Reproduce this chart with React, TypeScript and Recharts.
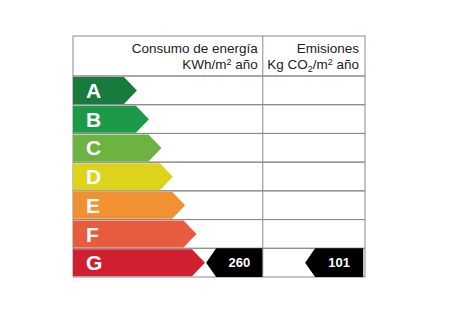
import { Bar, BarChart, Cell, ReferenceArea, ReferenceLine, XAxis, YAxis } from 'recharts';

// Energy rating classes, longest arrow for the worst class
const ratings = ['A', 'B', 'C', 'D', 'E', 'F', 'G'];
const classReach = [21.9, 26.0, 30.3, 34.2, 38.4, 42.3, 45.2];
const classColors = ['#187a3d', '#1c9a4a', '#6cb341', '#ddd21c', '#f19131', '#e85b3f', '#d01f2e'];

// Both indicators point at the building's rating
const consumptionValue = 260;
const consumptionRating = 'G';
const emissionsValue = 101;
const emissionsRating = 'G';

// Scale runs 0-100 across the table; the energy column ends at 65
const energyColumnEnd = 65;
const consumptionTip = 45.6;
const emissionsTip = 79.5;

const FONT = '"Liberation Sans", Arial, sans-serif';
const WIDTH = 476;
const HEIGHT = 317;
const MARGIN = { top: 76, left: 73, right: 111, bottom: 40 };
const HEADER_TOP = 36;
const BORDER = '#8a8a8a';

const chartData = ratings.map((rating, i) => ({ rating, reach: classReach[i] }));

function ClassArrow(props: any) {
  const { x, y, width, height, fill, payload } = props;
  const head = 13;
  const right = x + width;
  const points = [
    [x, y],
    [right - head, y],
    [right, y + height / 2],
    [right - head, y + height],
    [x, y + height],
  ]
    .map((p) => p.join(','))
    .join(' ');
  return (
    <g>
      <polygon points={points} fill={fill} />
      <text
        x={x + 13}
        y={y + height / 2 + 7.5}
        fill="#fff"
        fontFamily={FONT}
        fontWeight="bold"
        fontSize={21}
      >
        {payload.rating}
      </text>
    </g>
  );
}

function markerShape(value: number) {
  return (props: any) => {
    const { x, y, width, height } = props;
    const head = 10;
    const points = [
      [x, y + height / 2],
      [x + head, y],
      [x + width, y],
      [x + width, y + height],
      [x + head, y + height],
    ]
      .map((p) => p.join(','))
      .join(' ');
    return (
      <g>
        <polygon points={points} fill="#000" />
        <text
          x={x + head + (width - head) / 2}
          y={y + height / 2 + 4.5}
          textAnchor="middle"
          fill="#fff"
          fontFamily={FONT}
          fontWeight="bold"
          fontSize={13}
        >
          {value}
        </text>
      </g>
    );
  };
}

function Header() {
  const left = MARGIN.left;
  const right = WIDTH - MARGIN.right;
  const plotWidth = right - left;
  const split = left + (plotWidth * energyColumnEnd) / 100;
  const textStyle = { fontFamily: FONT, fontSize: 13.5, fill: '#222' };
  return (
    <g>
      <rect
        x={left}
        y={HEADER_TOP}
        width={plotWidth}
        height={MARGIN.top - HEADER_TOP}
        fill="none"
        stroke={BORDER}
      />
      <line x1={split} x2={split} y1={HEADER_TOP} y2={MARGIN.top} stroke={BORDER} />
      <text x={split - 5} y={53} textAnchor="end" {...textStyle}>
        Consumo de energía
      </text>
      <text x={split - 5} y={69} textAnchor="end" {...textStyle}>
        KWh/m<tspan fontSize={9} dy={-4}>2</tspan>
        <tspan dy={4}> año</tspan>
      </text>
      <text x={right - 6} y={53} textAnchor="end" {...textStyle}>
        Emisiones
      </text>
      <text x={right - 6} y={69} textAnchor="end" {...textStyle}>
        Kg CO<tspan fontSize={9} dy={3}>2</tspan>
        <tspan dy={-3}>/m</tspan>
        <tspan fontSize={9} dy={-4}>2</tspan>
        <tspan dy={4}> año</tspan>
      </text>
    </g>
  );
}

export default function App() {
  return (
    <div style={{ position: 'absolute', left: 0, top: 0, background: '#fff' }}>
      <BarChart
        width={WIDTH}
        height={HEIGHT}
        data={chartData}
        layout="vertical"
        margin={MARGIN}
        barCategoryGap={1}
      >
        <XAxis type="number" domain={[0, 100]} hide />
        <YAxis type="category" dataKey="rating" hide />
        {ratings.map((r) => (
          <ReferenceArea
            key={`row-${r}`}
            x1={0}
            x2={100}
            y1={r}
            y2={r}
            fill="none"
            stroke={BORDER}
            strokeWidth={1}
          />
        ))}
        <ReferenceLine x={energyColumnEnd} stroke={BORDER} />
        <Bar dataKey="reach" shape={ClassArrow} isAnimationActive={false}>
          {chartData.map((entry, index) => (
            <Cell key={`cell-${entry.rating}`} fill={classColors[index]} />
          ))}
        </Bar>
        <ReferenceArea
          x1={consumptionTip}
          x2={energyColumnEnd}
          y1={consumptionRating}
          y2={consumptionRating}
          shape={markerShape(consumptionValue)}
        />
        <ReferenceArea
          x1={emissionsTip}
          x2={99.4}
          y1={emissionsRating}
          y2={emissionsRating}
          shape={markerShape(emissionsValue)}
        />
        <Header />
      </BarChart>
    </div>
  );
}
